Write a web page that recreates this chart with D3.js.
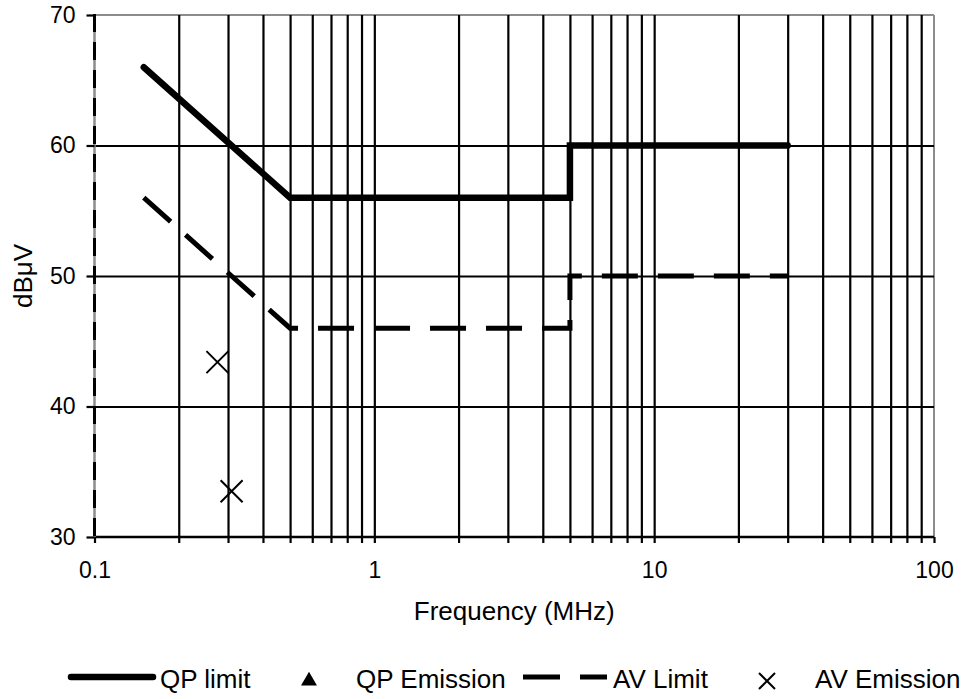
<!DOCTYPE html>
<html><head><meta charset="utf-8">
<script src="https://cdn.jsdelivr.net/npm/d3@7"></script>
<style>
body{margin:0;background:#fff}
svg{display:block}
text{font-family:"Liberation Sans",Arial,sans-serif;fill:#000}
</style>
</head><body>
<svg id="c" width="962" height="699"></svg>
<script>
// ---- data ----
const qpLimitFreq = [0.15, 0.5, 5, 5, 30];
const qpLimit     = [66, 56, 56, 60, 60];
const avLimitFreq = [0.15, 0.5, 5, 5, 30];
const avLimit     = [56, 46, 46, 50, 50];
const qpEmissionFreq = [];
const qpEmission     = [];
const avEmissionFreq = [0.275, 0.309];
const avEmission     = [43.4, 33.5];
const xTickLabels = [0.1, 1, 10, 100];
const yTicks = [30, 40, 50, 60, 70];
const legendLabels = ["QP limit", "QP Emission", "AV Limit", "AV Emission"];
const xTitle = "Frequency (MHz)";
const yTitle = "dBμV";

// ---- layout ----
const L = 94.5, R = 934, T = 15, B = 537;
const svg = d3.select("#c");
const x = d3.scaleLog().domain([0.1, 100]).range([L, R]);
const y = d3.scaleLinear().domain([30, 70]).range([B, T]);
const allX = x.ticks();

// borders (gray)
svg.append("line").attr("x1", L).attr("x2", R).attr("y1", T).attr("y2", T)
  .attr("stroke", "#8c8c8c").attr("stroke-width", 2);
svg.append("line").attr("x1", R).attr("x2", R).attr("y1", T).attr("y2", B)
  .attr("stroke", "#8c8c8c").attr("stroke-width", 2);

// vertical gridlines
const vg = svg.append("g").attr("transform", `translate(0,${B})`)
  .call(d3.axisBottom(x).tickValues(allX.filter(v => v > 0.1 && v < 100)).tickSize(-(B - T)).tickFormat(""));
vg.select(".domain").remove();
vg.selectAll(".tick line").attr("stroke", "#000").attr("stroke-width", 2.2);

// horizontal gridlines
const hg = svg.append("g").attr("transform", `translate(${L},0)`)
  .call(d3.axisLeft(y).tickValues(yTicks.filter(v => v > 30 && v < 70)).tickSize(-(R - L)).tickFormat(""));
hg.select(".domain").remove();
hg.selectAll(".tick line").attr("stroke", "#000").attr("stroke-width", 2.2);

// bottom axis with ticks
const xa = svg.append("g").attr("transform", `translate(0,${B})`)
  .call(d3.axisBottom(x).tickValues(allX).tickSize(6).tickFormat(d => xTickLabels.includes(d) ? d3.format("")(d) : ""));
xa.select(".domain").attr("stroke", "#000").attr("stroke-width", 2.5).attr("d", `M${L},0H${R}`);
xa.selectAll(".tick line").attr("stroke", "#000").attr("stroke-width", 2.2);
xa.selectAll(".tick text").attr("y", 0).attr("dy", 0).attr("transform", "translate(0,41)")
  .style("font-size", "23px").attr("fill", "#000");

// left axis: gray line with black dashes
svg.append("line").attr("x1", L).attr("x2", L).attr("y1", T - 1).attr("y2", B)
  .attr("stroke", "#8c8c8c").attr("stroke-width", 2.5);
const ya = svg.append("g").attr("transform", `translate(${L},0)`)
  .call(d3.axisLeft(y).tickValues(yTicks).tickSize(8).tickFormat(d3.format("d")));
ya.select(".domain").attr("d", `M0,${T - 1}V${B}`).attr("stroke", "#000").attr("stroke-width", 3)
  .attr("stroke-dasharray", "18,10");
ya.selectAll(".tick line").attr("stroke", "#000").attr("stroke-width", 2.2);
ya.selectAll(".tick text").attr("x", -19).style("font-size", "23px").attr("fill", "#000");

// titles
svg.append("text").attr("x", (L + R) / 2).attr("y", 620).attr("text-anchor", "middle")
  .style("font-size", "26px").text(xTitle);
svg.append("text").attr("transform", `translate(32,${(T + B) / 2}) rotate(-90)`).attr("text-anchor", "middle")
  .style("font-size", "26px").text(yTitle);

// series
const line = d3.line().x(d => x(d[0])).y(d => y(d[1]));
svg.append("path").datum(qpLimitFreq.map((f, i) => [f, qpLimit[i]]))
  .attr("d", line).attr("fill", "none").attr("stroke", "#000").attr("stroke-width", 6.5)
  .attr("stroke-linecap", "round").attr("stroke-linejoin", "miter");
svg.append("path").datum(avLimitFreq.map((f, i) => [f, avLimit[i]]))
  .attr("d", line).attr("fill", "none").attr("stroke", "#000").attr("stroke-width", 5)
  .attr("stroke-dasharray", "36,20").attr("stroke-linejoin", "miter");

const tri = d3.symbol().type(d3.symbolTriangle).size(110);
svg.append("g").selectAll("path").data(qpEmissionFreq.map((f, i) => [f, qpEmission[i]]))
  .join("path").attr("d", tri).attr("transform", d => `translate(${x(d[0])},${y(d[1])})`).attr("fill", "#000");

const cross = (s) => `M${-s},${-s}L${s},${s}M${-s},${s}L${s},${-s}`;
svg.append("g").selectAll("path").data(avEmissionFreq.map((f, i) => [f, avEmission[i]]))
  .join("path").attr("d", cross(11)).attr("transform", d => `translate(${x(d[0])},${y(d[1])})`)
  .attr("fill", "none").attr("stroke", "#000").attr("stroke-width", 2);

// legend
const lg = svg.append("g");
const ly = 677, lty = 688;
lg.append("line").attr("x1", 71).attr("x2", 153).attr("y1", ly).attr("y2", ly)
  .attr("stroke", "#000").attr("stroke-width", 6.5).attr("stroke-linecap", "round");
lg.append("text").attr("x", 160).attr("y", lty).style("font-size", "26px").text(legendLabels[0]);
lg.append("path").attr("d", tri).attr("transform", `translate(309,681)`).attr("fill", "#000");
lg.append("text").attr("x", 356).attr("y", lty).style("font-size", "26px").text(legendLabels[1]);
lg.append("line").attr("x1", 523).attr("x2", 607).attr("y1", ly).attr("y2", ly)
  .attr("stroke", "#000").attr("stroke-width", 5).attr("stroke-dasharray", "37,20");
lg.append("text").attr("x", 613).attr("y", lty).style("font-size", "26px").text(legendLabels[2]);
lg.append("path").attr("d", cross(8)).attr("transform", `translate(767,681)`)
  .attr("fill", "none").attr("stroke", "#000").attr("stroke-width", 2);
lg.append("text").attr("x", 815).attr("y", lty).style("font-size", "26px").text(legendLabels[3]);
</script>
</body></html>
